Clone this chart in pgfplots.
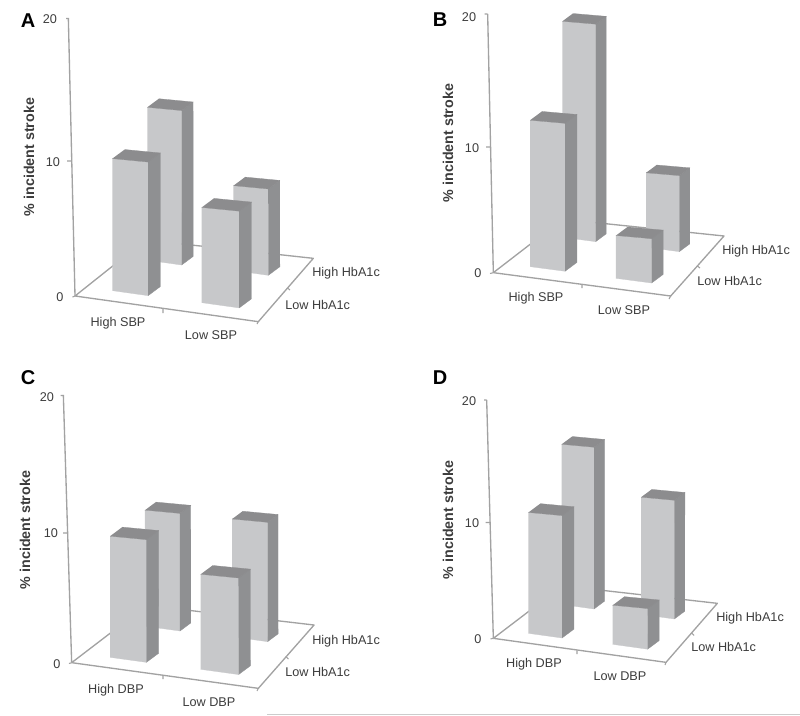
\documentclass[border=0pt]{standalone}
\usepackage{pgfplots}
\pgfplotsset{compat=1.18}
\usepackage{fontspec}
\setmainfont{Liberation Sans}
\definecolor{barfront}{HTML}{C7C8CA}
\definecolor{barside}{HTML}{8F9092}
\definecolor{bartop}{HTML}{8C8C8E}
\definecolor{axisgray}{HTML}{A2A2A2}
\definecolor{labelgray}{HTML}{3C3C3C}
\pgfplotsset{
  panel/.style={
    anchor=origin, hide axis, clip=false,
    xmin=-0.2, xmax=2.2, ymin=-0.1, ymax=2.5, zmin=0, zmax=20,
    every axis plot/.append style={mark=none}
  }
}
% x0 x1 y0 y1 value; the right end of the top is set slightly flatter for the picture's perspective
\newcommand{\threedbar}[5]{
  \addplot3[fill=barfront,draw=barfront,line width=0.2pt] coordinates {(#1,#3,0) (#2,#3,0) (#2-0.02,#3+0.05,#5) (#1,#3,#5)};
  \addplot3[fill=barside,draw=barside,line width=0.2pt] coordinates {(#2,#3,0) (#2,#4,0) (#2-0.02,#4+0.05,#5) (#2-0.02,#3+0.05,#5)};
  \addplot3[fill=bartop,draw=bartop,line width=0.2pt] coordinates {(#1,#3,#5) (#2-0.02,#3+0.05,#5) (#2-0.02,#4+0.05,#5) (#1,#4,#5)};
}
% back-right x,y ; back-left x,y ; z-axis top x,y
\newcommand{\floorlines}[6]{
  \addplot3[draw=axisgray,line width=1pt,line join=round] coordinates {(0,0,0) (2,0,0) (#1,#2,0) (#3,#4,0) (0,0,0)};
  \addplot3[draw=axisgray,line width=1pt] coordinates {(0,0,0) (#5,#6,20)};
}
\tikzset{
  lbl/.style={font=\fontsize{9.5pt}{11pt}\selectfont,text=labelgray,inner sep=0pt},
  lblL/.style={lbl,anchor=west},
  ylbl/.style={font=\fontsize{10.7pt}{12pt}\selectfont\bfseries,text=labelgray,rotate=90,inner sep=0pt},
  plet/.style={font=\fontsize{15pt}{17pt}\selectfont\bfseries,text=black,inner sep=0pt},
  tk/.style={draw=axisgray,line width=0.8pt}
}
\begin{document}
\begin{tikzpicture}
\path[use as bounding box] (0pt,0pt) rectangle (600pt,-536.25pt);
% Panel A
\begin{axis}[panel, at={(56.25pt,-222pt)}, x={(68.75pt,-9.625pt)}, y={(26.25pt,19.5pt)}, z={(0pt,10.425pt)}]
  \floorlines{1.722}{2.299}{-0.046}{2.131}{-0.0612}{-0.0302}
  \threedbar{0.221}{0.596}{1.486}{1.816}{11.0}
  \threedbar{1.139}{1.519}{1.545}{1.875}{6.1}
  \threedbar{0.277}{0.667}{0.342}{0.692}{9.5}
  \threedbar{1.245}{1.655}{0.358}{0.708}{6.85}
\end{axis}
% Panel B
\begin{axis}[panel, at={(370pt,-204.5pt)}, x={(66.5pt,-8.75pt)}, y={(26.25pt,19.5pt)}, z={(0pt,9.7pt)}]
  \floorlines{1.737}{2.19}{-0.025}{2.044}{-0.0543}{-0.0244}
  \threedbar{0.205}{0.581}{1.453}{1.753}{16.7}
  \threedbar{1.136}{1.511}{1.486}{1.786}{5.76}
  \threedbar{0.274}{0.669}{0.354}{0.694}{11.32}
  \threedbar{1.248}{1.650}{0.342}{0.672}{3.31}
\end{axis}
% Panel C
\begin{axis}[panel, at={(53.75pt,-497pt)}, x={(70pt,-9.625pt)}, y={(26.25pt,19.5pt)}, z={(0pt,10.04pt)}]
  \floorlines{1.733}{2.304}{-0.02}{2.193}{-0.0753}{-0.0372}
  \threedbar{0.219}{0.594}{1.511}{1.821}{8.67}
  \threedbar{1.136}{1.516}{1.556}{1.856}{8.8}
  \threedbar{0.282}{0.672}{0.344}{0.694}{9.05}
  \threedbar{1.247}{1.654}{0.359}{0.699}{7.1}
\end{axis}
% Panel D
\begin{axis}[panel, at={(370pt,-478.75pt)}, x={(64.75pt,-9pt)}, y={(26.25pt,19.5pt)}, z={(0pt,8.94pt)}]
  \floorlines{1.726}{2.143}{-0.017}{2.012}{-0.065}{-0.03}
  \threedbar{0.222}{0.597}{1.404}{1.704}{13.44}
  \threedbar{1.127}{1.512}{1.442}{1.742}{9.83}
  \threedbar{0.276}{0.666}{0.32}{0.66}{10.14}
  \threedbar{1.243}{1.648}{0.343}{0.673}{3.28}
\end{axis}
\begin{scope}[x=0.75pt,y=-0.75pt]
  % Panel A text
  \node[plet] at (28,21) {A};
  \node[lbl] at (50,19) {20}; \node[lbl] at (53,162) {10}; \node[lbl] at (60,297) {0};
  \node[ylbl] at (29,157) {\% incident stroke};
  \node[lbl] at (118,323) {High SBP}; \node[lbl] at (211,335) {Low SBP};
  \node[lblL] at (312,273) {High HbA1c}; \node[lblL] at (285,305) {Low HbA1c};
  \draw[tk] (66,18.5)--(68.5,18.5) (67,161)--(71.6,161) (72.5,297)--(75,296) (163,309)--(163,313) (258.3,321.7)--(257,324) (287.5,288)--(290,290);
  % Panel B text
  \node[plet] at (440,20) {B};
  \node[lbl] at (469,17) {20}; \node[lbl] at (472,148) {10}; \node[lbl] at (478,273) {0};
  \node[ylbl] at (448,143) {\% incident stroke};
  \node[lbl] at (536,298) {High SBP}; \node[lbl] at (624,310) {Low SBP};
  \node[lblL] at (722,251) {High HbA1c}; \node[lblL] at (697,281) {Low HbA1c};
  \draw[tk] (484.5,14)--(487.7,14) (486,147)--(490.5,147) (490,273.5)--(493.3,272.7) (582,284.3)--(582,288) (670.7,296)--(669,299) (697.3,266)--(700,268);
  % Panel C text
  \node[plet] at (28,378) {C};
  \node[lbl] at (47,397) {20}; \node[lbl] at (51,533) {10}; \node[lbl] at (57,664) {0};
  \node[ylbl] at (25,530) {\% incident stroke};
  \node[lbl] at (116,690) {High DBP}; \node[lbl] at (209,702) {Low DBP};
  \node[lblL] at (312,641) {High HbA1c}; \node[lblL] at (285,672) {Low HbA1c};
  \draw[tk] (60.5,395.5)--(63.3,395.5) (63,533)--(67.5,533) (69,663.5)--(71.7,662.7) (163,675.5)--(163,679) (258.3,688.3)--(257,691) (286,656.7)--(288.5,659);
  % Panel D text
  \node[plet] at (440,378) {D};
  \node[lbl] at (469,401) {20}; \node[lbl] at (472,523) {10}; \node[lbl] at (478,639) {0};
  \node[ylbl] at (448,520) {\% incident stroke};
  \node[lbl] at (534,664) {High DBP}; \node[lbl] at (620,676) {Low DBP};
  \node[lblL] at (716,618) {High HbA1c}; \node[lblL] at (691,647) {Low HbA1c};
  \draw[tk] (484,400)--(486.7,400) (485.5,522.5)--(490,522.5) (490.5,639)--(493.3,638.3) (577,650.3)--(577,654) (666,662.3)--(665,665) (691.7,633)--(694,635.5);
  % faint rule at the foot of the figure
  \draw[draw=black!20,line width=0.7pt] (267,714)--(800,714);
\end{scope}
\end{tikzpicture}
\end{document}
